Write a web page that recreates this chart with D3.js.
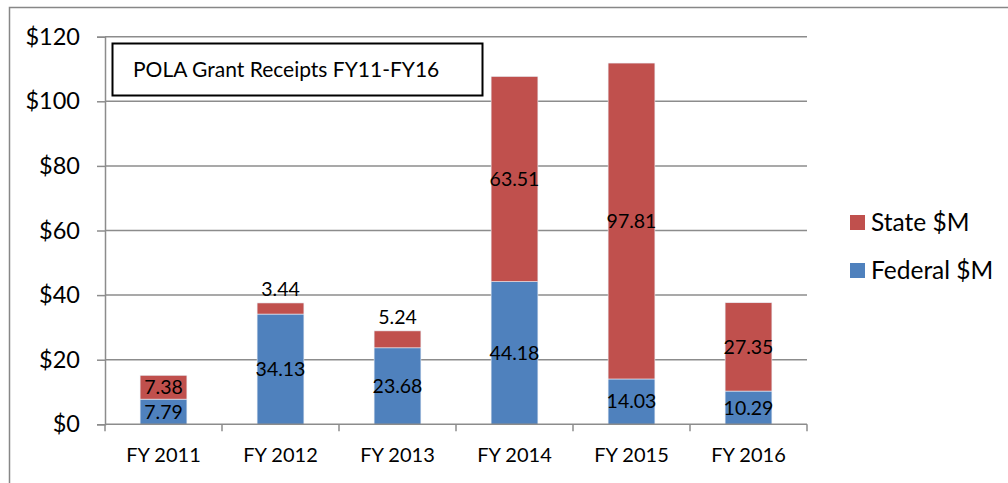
<!DOCTYPE html>
<html><head><meta charset="utf-8">
<script src="https://cdn.jsdelivr.net/npm/d3@7"></script>
<style>html,body{margin:0;padding:0;background:#fff;}svg{display:block;}</style>
</head><body>
<svg id="chart" width="1008" height="483"></svg>
<script>
const categories = ["FY 2011","FY 2012","FY 2013","FY 2014","FY 2015","FY 2016"];
const federal = [7.79, 34.13, 23.68, 44.18, 14.03, 10.29];
const state = [7.38, 3.44, 5.24, 63.51, 97.81, 27.35];
const seriesNames = ["Federal $M","State $M"];
const yTicks = [0,20,40,60,80,100,120];
const title = "POLA Grant Receipts FY11-FY16";

const FONT = "Lato, 'Open Sans', sans-serif";
const colors = {"Federal $M":"#4F81BD","State $M":"#C0504D"};
const svg = d3.select("#chart");
const m = {left:105, right:807, top:36.7, bottom:424.3};

// outer frame
svg.append("rect").attr("x",9.5).attr("y",7.5).attr("width",1010).attr("height",490)
  .attr("fill","none").attr("stroke","#878787").attr("stroke-width",1.5);

const x = d3.scaleBand().domain(categories).range([m.left,m.right]).paddingInner(0.6).paddingOuter(0.3);
const xOuter = d3.scaleBand().domain(categories).range([m.left,m.right]);
const y = d3.scaleLinear().domain([0,120]).range([m.bottom,m.top]);

// gridlines
svg.append("g").selectAll("line").data(yTicks.filter(d=>d>0)).join("line")
  .attr("x1",m.left).attr("x2",m.right).attr("y1",d=>y(d)).attr("y2",d=>y(d))
  .attr("stroke","#8c8c8c").attr("stroke-width",1.5);

// y axis
const yAxis = svg.append("g").attr("transform",`translate(${m.left},0)`)
  .call(d3.axisLeft(y).tickValues(yTicks).tickSize(8).tickPadding(17).tickFormat(d=>"$"+d));
yAxis.select(".domain").attr("stroke","#8c8c8c").attr("stroke-width",1.5);
yAxis.selectAll(".tick line").attr("stroke","#8c8c8c").attr("stroke-width",1.5);
yAxis.selectAll(".tick text").attr("font-family",FONT).attr("font-size",23.5).attr("fill","#000");

// stacked data
const rows = categories.map((c,i)=>({cat:c,"Federal $M":federal[i],"State $M":state[i]}));
const stack = d3.stack().keys(seriesNames)(rows);

const bars = svg.append("g");
stack.forEach(s=>{
  bars.append("g").selectAll("rect").data(s).join("rect")
    .attr("x",d=>x(d.data.cat)).attr("width",x.bandwidth())
    .attr("y",d=>y(d[1])).attr("height",d=>y(d[0])-y(d[1]))
    .attr("fill",colors[s.key]).attr("stroke","#e8eef6").attr("stroke-width",0.6);
});

// x axis
const xAxis = svg.append("g").attr("transform",`translate(0,${m.bottom})`);
xAxis.append("line").attr("x1",m.left).attr("x2",m.right).attr("stroke","#8c8c8c").attr("stroke-width",1.5);
const bounds = categories.map(c=>xOuter(c)).concat([m.right]);
xAxis.selectAll("line.tk").data(bounds).join("line").attr("class","tk")
  .attr("x1",d=>d).attr("x2",d=>d).attr("y1",0).attr("y2",7).attr("stroke","#8c8c8c").attr("stroke-width",1.5);
xAxis.selectAll("text").data(categories).join("text")
  .attr("x",d=>xOuter(d)+xOuter.bandwidth()/2).attr("y",38)
  .attr("text-anchor","middle").attr("font-family",FONT).attr("font-size",20).attr("fill","#000").text(d=>d);

// data labels
const labels = svg.append("g").attr("font-family",FONT).attr("font-size",19.5).attr("fill","#000").attr("text-anchor","middle");
stack.forEach(s=>{
  s.forEach(d=>{
    const h = y(d[0])-y(d[1]);
    const cx = x(d.data.cat)+x.bandwidth()/2;
    let cy = (y(d[0])+y(d[1]))/2;
    if (h < 20) cy = y(d[1]) - 14;
    labels.append("text").attr("x",cx).attr("y",cy).attr("dy","0.35em").text(d.data[s.key].toFixed(2));
  });
});

// title box
svg.append("rect").attr("x",112.5).attr("y",43.5).attr("width",370).attr("height",52)
  .attr("fill","#fff").attr("stroke","#000").attr("stroke-width",2);
svg.append("text").attr("x",133).attr("y",77).attr("font-family",FONT).attr("font-size",21).attr("fill","#000").text(title);

// legend
const legendItems = ["State $M","Federal $M"];
const lg = svg.append("g");
legendItems.forEach((k,i)=>{
  const ly = 215 + i*48;
  lg.append("rect").attr("x",850).attr("y",ly).attr("width",15).attr("height",15).attr("fill",colors[k]);
  lg.append("text").attr("x",871).attr("y",ly+7.5).attr("dy","0.35em").attr("font-family",FONT).attr("font-size",24.5).attr("fill","#000").text(k);
});
</script>
</body></html>
